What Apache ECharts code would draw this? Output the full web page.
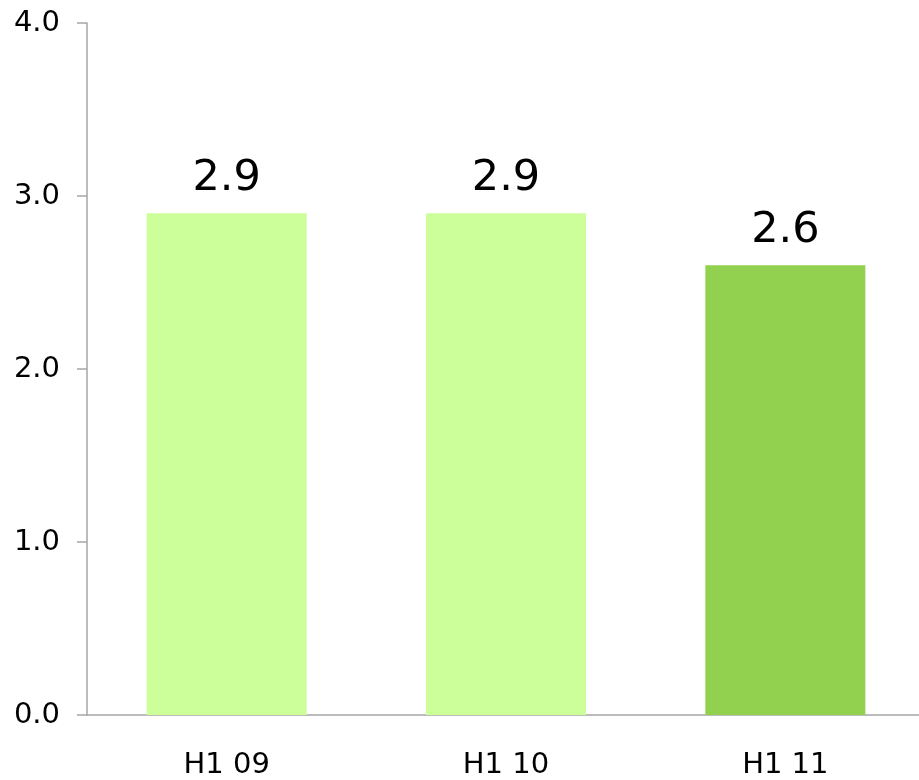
<!DOCTYPE html>
<html>
<head>
<meta charset="utf-8">
<script src="https://cdn.jsdelivr.net/npm/echarts@6/dist/echarts.min.js"></script>
<style>
  html, body { margin: 0; padding: 0; background: #ffffff; overflow: hidden; }
  /* the plot area runs slightly past the right edge of the window */
  #chart { width: 926px; height: 780px; }
</style>
</head>
<body>
<div id="chart"></div>
<script>
// Half-year values
const categories = ['H1 09', 'H1 10', 'H1 11'];
const values = [2.9, 2.9, 2.6];
const barColors = ['#CCFF99', '#CCFF99', '#92D050'];
const yTicks = { min: 0, max: 4, interval: 1 };

const FONT = 'DejaVu Sans, Verdana, sans-serif';

const chart = echarts.init(document.getElementById('chart'), null, { renderer: 'canvas' });

chart.setOption({
  animation: false,
  backgroundColor: '#ffffff',
  grid: { left: 87, top: 23, bottom: 63, right: 1, containLabel: false },
  xAxis: {
    type: 'category',
    data: categories,
    axisLine: { show: true, lineStyle: { color: '#A6A6A6', width: 1.5 } },
    axisTick: { show: false },
    axisLabel: { color: '#000000', fontFamily: FONT, fontSize: 29, margin: 36 }
  },
  yAxis: {
    type: 'value',
    min: yTicks.min,
    max: yTicks.max,
    interval: yTicks.interval,
    axisLine: { show: true, lineStyle: { color: '#A6A6A6', width: 1.5 } },
    axisTick: { show: true, length: 10, lineStyle: { color: '#A6A6A6', width: 1.5 } },
    splitLine: { show: false },
    axisLabel: {
      color: '#000000', fontFamily: FONT, fontSize: 29, margin: 27,
      formatter: v => v.toFixed(1)
    }
  },
  series: [{
    type: 'bar',
    barWidth: 160,
    data: values.map((v, i) => ({ value: v, itemStyle: { color: barColors[i] } })),
    label: {
      show: true,
      position: 'top',
      distance: 13,
      color: '#000000',
      fontFamily: FONT,
      fontSize: 43,
      formatter: p => p.value.toFixed(1)
    }
  }]
});
</script>
</body>
</html>
